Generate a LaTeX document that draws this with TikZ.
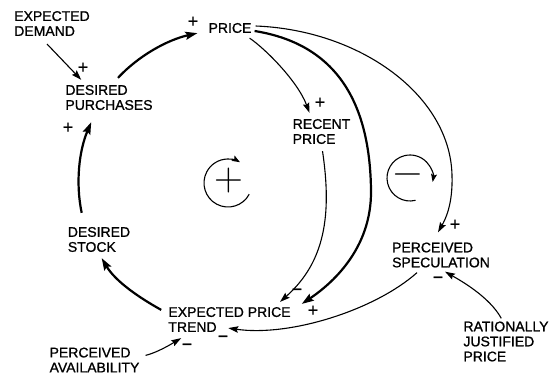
\documentclass[tikz,border=0pt]{standalone}
\usepackage{fontspec}
\setmainfont{Liberation Sans}[FakeBold=1]
\newfontfamily\lmfont{Latin Modern Roman}
\usetikzlibrary{arrows.meta}
\begin{document}
\begin{tikzpicture}[x=1pt,y=-1pt,
  lbl/.style={font=\fontsize{14}{15}\selectfont, align=left, inner sep=0pt},
  sgn/.style={font=\fontsize{18}{18}\selectfont, inner sep=0pt},
  bigsgn/.style={font=\lmfont\fontsize{40}{40}\selectfont, inner sep=0pt},
  thickarr/.style={line width=2.2pt, -{Stealth[length=12pt,width=8pt,inset=2pt]}},
  thinarr/.style={line width=1.1pt, -{Stealth[length=10pt,width=6.5pt,inset=1.5pt]}},
  loopline/.style={line width=1.1pt, -{Stealth[length=8pt,width=6pt,inset=1.5pt]}}
]
\useasboundingbox (0,0) rectangle (555,374);

% variables
\node[lbl] (expdem) at (52,23.5) {EXPECTED\\DEMAND};
\node[lbl] (price) at (230,28) {PRICE};
\node[lbl] (dp) at (109,97.5) {DESIRED\\PURCHASES};
\node[lbl] (rp) at (321.5,131.5) {RECENT\\PRICE};
\node[lbl] (ds) at (99,239.5) {DESIRED\\STOCK};
\node[lbl] (ept) at (229.5,319.5) {EXPECTED PRICE\\TREND};
\node[lbl] (pa) at (94.5,360) {PERCEIVED\\AVAILABILITY};
\node[lbl] (ps) at (441,255) {PERCEIVED\\SPECULATION};
\node[lbl] (rjp) at (506,341.5) {RATIONALLY\\JUSTIFIED\\PRICE};

% polarity signs
\node[sgn] (s1) at (193,22) {+};
\node[sgn] (s2) at (83,68) {+};
\node[sgn] (s3) at (68,128) {+};
\node[sgn] (s4) at (320,103) {+};
\node[sgn] (s5) at (297,292) {−};
\node[sgn] (s6) at (313,311) {+};
\node[sgn] (s7) at (455,225) {+};
\node[sgn] (s8) at (438,280) {−};
\node[sgn] (s9) at (223,339) {−};
\node[sgn] (s10) at (187,347) {−};

% main loop
\draw[thickarr] ([shift={(9,-7)}]dp.north) .. controls +(20.7,-22.3) and +(-29.7,6.6) .. ([shift={(-11,0)}]price.south west);
\draw[thickarr] ([shift={(14,-14)}]ds.north west) .. controls +(-6.3,-30.1) and +(-12.1,28.3) .. ([shift={(26,12)}]dp.south west);
\draw[thickarr] ([shift={(-7,3)}]ept.north west) .. controls +(-23.2,-12.9) and +(13.5,22.8) .. ([shift={(34,6)}]ds.south west);

% other links
\draw[thinarr] ([shift={(33,8)}]expdem.south west) -- ([shift={(16,-5)}]dp.north west);
\draw[thinarr] ([shift={(-2,5)}]price.south east) .. controls +(15,10) and +(-12,-32) .. ([shift={(17,-6)}]rp.north west);
\draw[thinarr] ([shift={(4,-2)}]price.east) .. controls (360,30) and (450,95) .. (452,175) .. controls (453,205) and (445,220) .. ([shift={(-3,-10)}]ps.north);
\draw[thickarr] ([shift={(3,3)}]price.east) .. controls (342,45) and (370,110) .. (371,190) .. controls (372,250) and (330,285) .. ([shift={(11,-3)}]ept.north east);
\draw[thinarr] ([shift={(30,7)}]rp.south west) .. controls (332,215) and (325,262) .. ([shift={(50.5,-5)}]ept.north);
\draw[thinarr] ([shift={(-24,5)}]ps.south) .. controls (375,310) and (290,337) .. ([shift={(60,-4)}]ept.south west);
\draw[thinarr] ([shift={(6,8)}]pa.north east) .. controls +(12,-3) and +(-10,6) .. ([shift={(13,6)}]ept.south west);
\draw[thinarr] ([shift={(38,-3)}]rjp.north west) .. controls +(-12,-22) and +(14,8) .. ([shift={(4,4)}]ps.south);

% loop markers
\node[bigsgn] (lplus) at (229,181) {+};
\draw[loopline] (228,183) ++(28:24) arc[start angle=28, end angle=300, radius=24];
\node[bigsgn] (lminus) at (408,179) {−};
\draw[loopline] (410,178) ++(76:23) arc[start angle=76, end angle=370, radius=23];
\end{tikzpicture}
\end{document}
